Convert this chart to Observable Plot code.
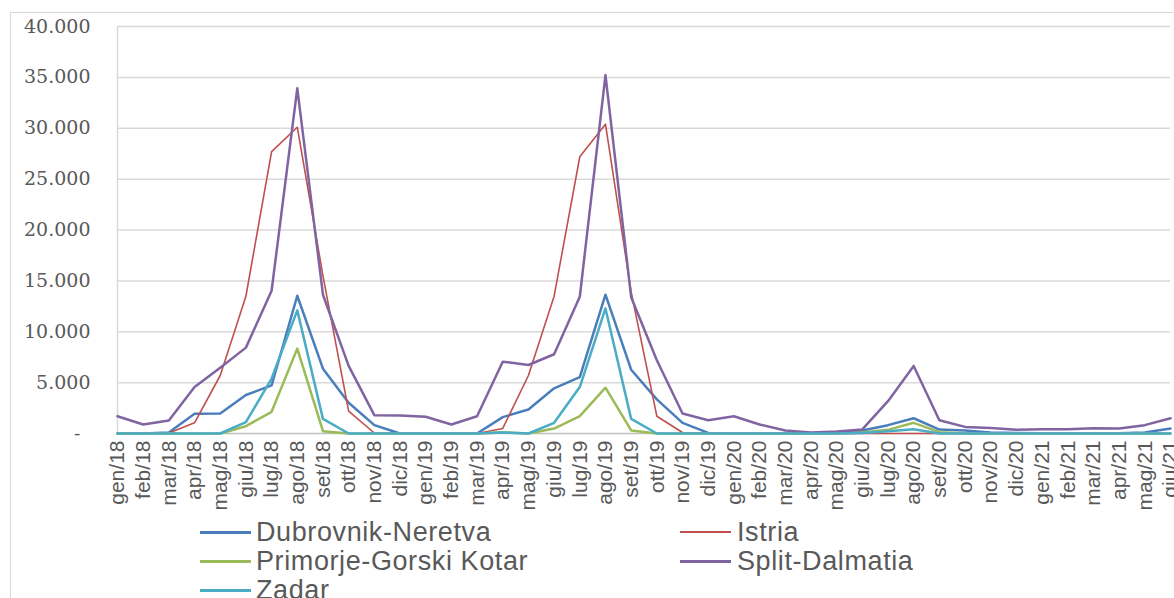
<!DOCTYPE html>
<html>
<head>
<meta charset="utf-8">
<script src="https://cdn.jsdelivr.net/npm/d3@7"></script>
<script src="https://cdn.jsdelivr.net/npm/@observablehq/plot@0.6"></script>
<style>
  html, body { margin: 0; padding: 0; background: #fff; }
  #wrap { position: relative; width: 1174px; height: 598px; overflow: hidden; background: #fff; }
  #frame { position: absolute; left: 10px; top: 12px; width: 1200px; height: 700px;
           border-left: 1px solid #d9d9d9; border-top: 1px solid #d9d9d9; box-sizing: border-box; }
  #chart { position: absolute; left: 0; top: 0; width: 1174px; }
  #chart svg { max-width: none !important; }
  #chart g[aria-label="y-axis tick label"] text { font-family: "DejaVu Serif", "Liberation Serif", serif; }
  #chart g[aria-label="x-axis tick label"] text { font-family: "Liberation Sans", Arial, sans-serif; }
  .lg { position: absolute; font-family: "Liberation Sans", Arial, sans-serif; font-size: 27px;
        letter-spacing: 0.6px; color: #595959; line-height: 30px; white-space: nowrap; }
  .sw { position: absolute; width: 51px; height: 3px; }
</style>
</head>
<body>
<div id="wrap">
  <div id="frame"></div>
  <div id="chart"></div>
  <div id="legend"></div>
</div>
<script>
const months = [
  "gen/18","feb/18","mar/18","apr/18","mag/18","giu/18","lug/18","ago/18","set/18","ott/18","nov/18","dic/18",
  "gen/19","feb/19","mar/19","apr/19","mag/19","giu/19","lug/19","ago/19","set/19","ott/19","nov/19","dic/19",
  "gen/20","feb/20","mar/20","apr/20","mag/20","giu/20","lug/20","ago/20","set/20","ott/20","nov/20","dic/20",
  "gen/21","feb/21","mar/21","apr/21","mag/21","giu/21"
];
const seriesNames = ["Dubrovnik-Neretva", "Istria", "Primorje-Gorski Kotar", "Split-Dalmatia", "Zadar"];
const seriesColors = ["#4a7ebb", "#c0504d", "#9bbb59", "#8064a2", "#4bacc6"];
const dubrovnik = [0,0,100,1930,1970,3780,4730,13540,6370,3020,820,0,
  0,0,0,1610,2360,4440,5550,13640,6270,3350,1050,60,
  30,30,30,30,50,300,820,1500,390,300,100,50,
  30,30,30,30,100,490];
const istria = [0,0,50,1050,5700,13500,27700,30100,15500,2200,50,0,
  0,0,0,500,5700,13500,27200,30400,13900,1700,100,0,
  0,0,0,0,0,0,0,0,0,0,0,0,
  0,0,0,0,0,0];
const primorje = [0,0,0,0,0,720,2130,8340,230,0,0,0,
  0,0,0,130,0,490,1710,4500,300,0,0,0,
  0,0,0,0,0,100,360,1050,130,0,0,0,
  0,0,0,0,0,0];
const split = [1700,890,1280,4560,6470,8440,14030,33920,13640,6640,1800,1780,
  1640,890,1700,7060,6730,7790,13440,35230,13400,7200,1970,1310,
  1700,890,300,100,200,400,3180,6640,1310,650,550,360,
  420,420,520,500,820,1500];
const zadar = [0,0,0,0,0,1110,5400,12100,1440,0,0,0,
  0,0,0,100,0,1050,4560,12290,1440,0,0,0,
  0,0,0,0,0,50,230,420,0,0,0,0,
  0,0,0,0,0,0];
const yTicks = [5000,10000,15000,20000,25000,30000,35000,40000];

const seriesValues = [dubrovnik, istria, primorje, split, zadar];
const seriesWidths = [2.5, 1.6, 2.5, 2.5, 2.5];
const itLocale = d3.formatLocale({decimal: ",", thousands: ".", grouping: [3], currency: ["", "€"]});
const fmt = itLocale.format(",");

const lineMarks = seriesNames.map((name, k) =>
  Plot.line(months.map((m, i) => ({month: m, value: seriesValues[k][i]})), {
    x: "month", y: "value", stroke: seriesColors[k], strokeWidth: seriesWidths[k],
    strokeLinejoin: "round", strokeLinecap: "round"
  })
);

const chart = Plot.plot({
  width: 1174,
  height: 515,
  marginLeft: 117,
  marginRight: 4,
  marginTop: 26,
  marginBottom: 82,
  style: {background: "transparent", overflow: "visible"},
  x: {type: "point", domain: months, padding: 0, round: false},
  y: {domain: [0, 40000]},
  marks: [
    Plot.gridY(yTicks, {stroke: "#d9d9d9", strokeOpacity: 1, strokeWidth: 1.5}),
    Plot.ruleX([months[0]], {stroke: "#d9d9d9", strokeWidth: 1.5}),
    Plot.ruleY([0], {stroke: "#bfbfbf", strokeWidth: 1.5}),
    ...lineMarks,
    Plot.axisY(yTicks, {tickSize: 0, tickPadding: 27, tickFormat: fmt, label: null,
      fontSize: 19, fontFamily: "DejaVu Serif", fill: "#595959"}),
    Plot.axisY([0], {tickSize: 0, tickPadding: 37, tickFormat: () => "-", label: null,
      fontSize: 19, fontFamily: "DejaVu Serif", fill: "#595959"}),
    Plot.axisX({tickRotate: -90, tickSize: 0, tickPadding: 7, label: null,
      fontSize: 21, fontFamily: "Liberation Sans", fill: "#595959"})
  ]
});
document.getElementById("chart").appendChild(chart);

// Legend
const legendPos = [
  {sx: 200, tx: 256, cy: 532},
  {sx: 680, tx: 737, cy: 532},
  {sx: 200, tx: 256, cy: 561},
  {sx: 680, tx: 737, cy: 561},
  {sx: 200, tx: 256, cy: 590}
];
const legend = document.getElementById("legend");
seriesNames.forEach((name, k) => {
  const p = legendPos[k];
  const sw = document.createElement("div");
  sw.className = "sw";
  sw.style.left = p.sx + "px";
  sw.style.top = (p.cy - 1.5) + "px";
  sw.style.background = seriesColors[k];
  if (k === 1) { sw.style.height = "2px"; }
  legend.appendChild(sw);
  const t = document.createElement("div");
  t.className = "lg";
  t.style.left = p.tx + "px";
  t.style.top = (p.cy - 15) + "px";
  t.textContent = name;
  legend.appendChild(t);
});
</script>
</body>
</html>
